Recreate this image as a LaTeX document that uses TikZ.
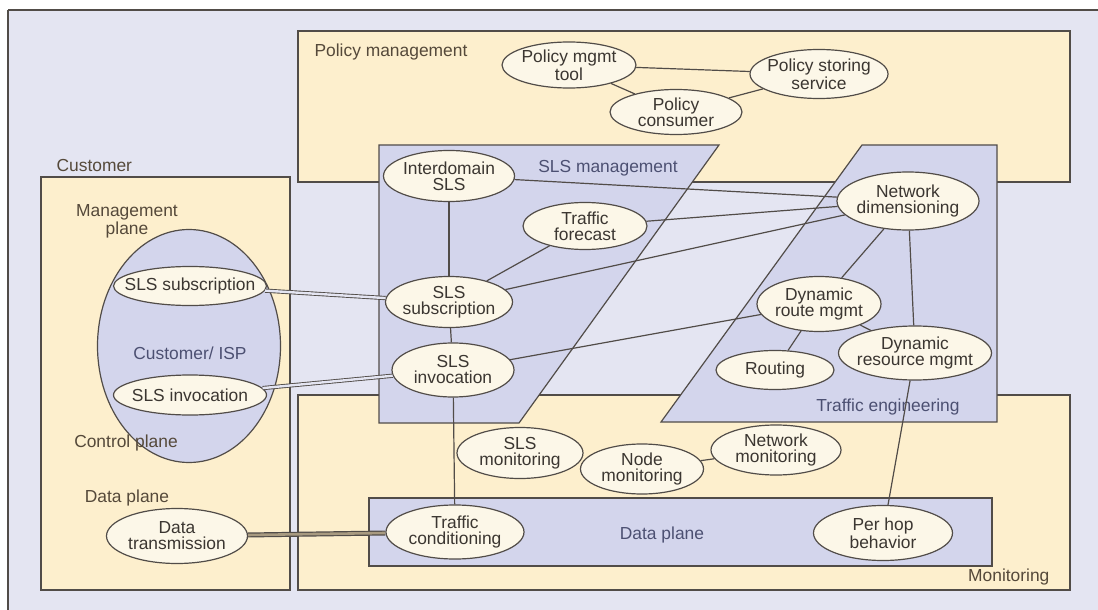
\documentclass[tikz,border=0pt]{standalone}
\usepackage{fontspec}
\setmainfont{Liberation Sans}
\usetikzlibrary{shapes.geometric}
\definecolor{bgc}{HTML}{E4E5F2}
\definecolor{yellowc}{HTML}{FDEFCD}
\definecolor{bluec}{HTML}{D3D5EC}
\definecolor{ellc}{HTML}{FCF7E8}
\definecolor{linec}{HTML}{514C48}
\definecolor{txtc}{HTML}{3B3631}
\definecolor{brownc}{HTML}{55493A}
\definecolor{bluetxt}{HTML}{4C5072}
\definecolor{bandc}{HTML}{A89A80}

\begin{document}
\begin{tikzpicture}[x=0.5pt,y=-0.5pt,line width=0.6pt]
	\tikzset{zone/.style={draw=linec,fill=yellowc}}
	\tikzset{plane/.style={draw=linec,fill=bluec}}
	\tikzset{blob/.style 2 args={ellipse,draw=linec,fill=ellc,minimum width=#1,minimum height=#2,inner sep=0pt}}
	\tikzset{every label/.style={align=center,font=\fontsize{8.7}{8}\selectfont,text=txtc,inner sep=0pt}}
	\tikzset{tag/.style={align=center,font=\fontsize{8.7}{8}\selectfont,text=brownc,inner sep=0pt}}
	\tikzset{bluetag/.style={tag,text=bluetxt}}
	\tikzset{link/.style={draw=linec}}
	\tikzset{pair/.style={draw=linec,double=bgc,double distance=1.2pt,line width=0.45pt}}
	\tikzset{band/.style={draw=linec,double=bandc,double distance=1.3pt,line width=0.6pt}}

	\useasboundingbox (0,0) rectangle (1098,610);
	\fill[bgc] (8,10) rectangle (1098,610);
	\draw[linec] (8,10) -- (8,610);
	\draw[linec,line width=1.3pt] (8,10) -- (1098,10);

	\draw[zone] (298,31) rectangle (1070,182);
	\draw[zone] (41,177) rectangle (290,590);
	\draw[zone] (298,395) rectangle (1070,590);
	\draw[plane] (379,145) -- (719,145) -- (519,423) -- (379,423) -- cycle;
	\draw[plane] (862,145) -- (997,145) -- (997,422) -- (661,422) -- cycle;
	\draw[plane] (369,498) rectangle (992,566);

	\node[blob={91.5pt}{116.5pt},fill=bluec] (cisp) at (189,346) {};

	\node[tag,anchor=west] (pm) at (314,52) {Policy management};
	\node[tag,anchor=west] (cu) at (56,166) {Customer};
	\node[tag] (mp) at (127,221) {Management\\plane};
	\node[bluetag] (ci) at (190,353) {Customer/ ISP};
	\node[tag] (cp) at (126,443) {Control plane};
	\node[tag] (dp) at (127,498) {Data plane};
	\node[bluetag] (sm) at (608,168) {SLS management};
	\node[bluetag] (te) at (888,407) {Traffic engineering};
	\node[bluetag] (dd) at (662,535) {Data plane};
	\node[tag,anchor=east] (mo) at (1050,577) {Monitoring};

	\node[blob={67pt}{23pt},label=center:{Policy mgmt\\tool}] (tool) at (569,65) {};
	\node[blob={69pt}{24.5pt},label=center:{Policy storing\\service}] (store) at (819,74) {};
	\node[blob={66pt}{22.5pt},label=center:{Policy\\consumer}] (cons) at (676,112) {};

	\node[blob={65.5pt}{25.5pt},label=center:{Interdomain\\SLS}] (inter) at (449,176) {};
	\node[blob={62pt}{23.5pt},label=center:{Traffic\\forecast}] (fore) at (585,226) {};
	\node[blob={63.5pt}{25.5pt},label=center:{SLS\\subscription}] (ssub) at (449,302) {};
	\node[blob={61pt}{27pt},label=center:{SLS\\invocation}] (sinv) at (453,370) {};

	\node[blob={71pt}{29pt},label=center:{Network\\dimensioning}] (ndim) at (908,201) {};
	\node[blob={62pt}{27.5pt},label=center:{Dynamic\\route mgmt}] (droute) at (819,304) {};
	\node[blob={76.5pt}{27pt},label=center:{Dynamic\\resource mgmt}] (dres) at (915,353) {};
	\node[blob={59pt}{19.5pt},label=center:{Routing}] (rout) at (775,370) {};

	\node[blob={63pt}{25.5pt},label=center:{SLS\\monitoring}] (smon) at (520,453) {};
	\node[blob={61.5pt}{25pt},label=center:{Node\\monitoring}] (nmon) at (642,469) {};
	\node[blob={65pt}{25pt},label=center:{Network\\monitoring}] (wmon) at (776,450) {};

	\node[blob={69pt}{27pt},label=center:{Traffic\\conditioning}] (tcond) at (455,532) {};
	\node[blob={69.5pt}{27.5pt},label=center:{Per hop\\behavior}] (phb) at (883,533) {};

	\node[blob={76.5pt}{19.5pt},label=center:{SLS subscription}] (csub) at (190,286) {};
	\node[blob={76.5pt}{20pt},label=center:{SLS invocation}] (cinv) at (190,395) {};
	\node[blob={70.5pt}{27.5pt},label=center:{Data\\transmission}] (dtx) at (177,536) {};

	\draw[link] (tool) -- (store);
	\draw[link] (tool) -- (cons);
	\draw[link] (cons) -- (store);
	\draw[link] (inter) -- (ndim);
	\draw[link] (inter) -- (ssub);
	\draw[link] (fore) -- (ndim);
	\draw[link] (fore) -- (ssub);
	\draw[link] (ssub) -- (ndim);
	\draw[link] (ssub) -- (sinv);
	\draw[link] (sinv) -- (droute);
	\draw[link] (sinv) -- (tcond);
	\draw[link] (ndim) -- (droute);
	\draw[link] (droute) -- (rout);
	\draw[link] (droute) -- (dres);
	\draw[link] (ndim) -- (dres);
	\draw[link] (dres) -- (phb);
	\draw[link] (nmon) -- (wmon);
	\draw[pair] (csub) -- (ssub);
	\draw[pair] (cinv) -- (sinv);
	\draw[band] (dtx) -- (tcond);
\end{tikzpicture}
\end{document}
